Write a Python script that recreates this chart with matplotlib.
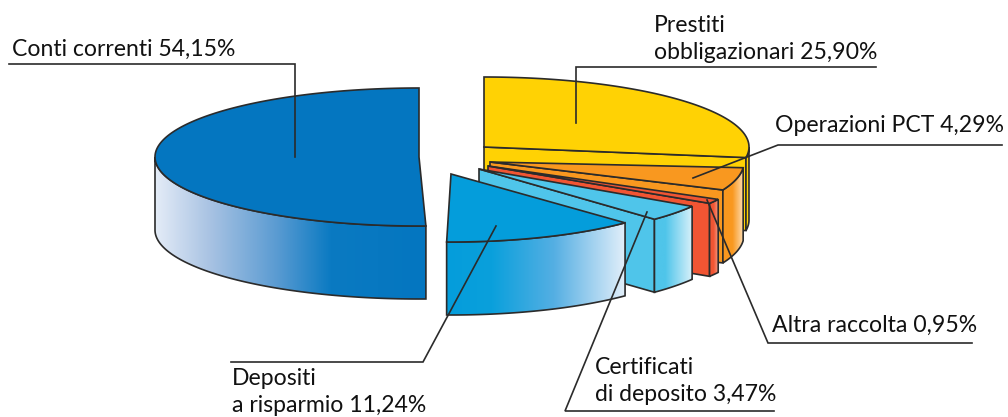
import numpy as np
import matplotlib
matplotlib.use('Agg')
import matplotlib.pyplot as plt
from matplotlib.colors import LinearSegmentedColormap
from matplotlib.patches import Polygon

####################################################
## data, clockwise from 12 o'clock

names = ['Prestiti\nobbligazionari', 'Operazioni PCT', 'Altra raccolta',
         'Certificati\ndi deposito', 'Depositi\na risparmio', 'Conti correnti']
shares = [25.90, 4.29, 0.95, 3.47, 11.24, 54.15]

####################################################
## pie geometry (pixels, y down)

W, H = 1008, 417
depth = 73
rx = [265, 254, 262, 252, 250, 264]
ry = [70, 70, 70, 70, 68, 69]
apex_x = [484, 490, 488, 479, 451, 419]
apex_y = [147, 162, 166, 169, 174, 157]

# the blue slice fills the back half on its own, the rest share the front half
nudge_start = [0, -7, 0, 0, 0, -1.5]
nudge_end = [-3, -5, 0, 0, 1, 0]

top_col = ['#FFD204', '#F9981F', '#F15533', '#4FC5EA', '#049DDB', '#0476C0']
wall_stops = [
    None,
    [(0.0, '#F9981F'), (0.45, '#F9981F'), (1.0, '#FEE0B8')],
    [(0.0, '#F15533'), (0.4, '#F15533'), (1.0, '#F8A58E')],
    [(0.0, '#4FC5EA'), (0.3, '#4FC5EA'), (1.0, '#D6F0FA')],
    [(0.0, '#049DDB'), (0.25, '#0AA0DC'), (0.6, '#55AFE3'), (1.0, '#E3EFFA')],
    [(0.0, '#E4ECF7'), (0.2, '#A9C3E3'), (0.45, '#5A9BD2'), (0.65, '#0A7AC2'), (1.0, '#0476C0')],
]

# leader lines: text anchor, then polyline
label_xy = [(654, 32), (775, 132), (772, 332), (595, 374), (232, 385), (12, 56)]
leaders = [
    ([876, 576, 576], [67, 67, 123]),
    ([1002, 778, 693], [145, 145, 178]),
    ([972, 768, 707], [343, 343, 200]),
    ([774, 565, 647], [411, 411, 212]),
    ([231, 423, 496], [362, 362, 226]),
    ([9, 295, 295], [64, 64, 157]),
]

plt.rcParams['font.family'] = ['Lato', 'DejaVu Sans']
line_col = '#2B2B2B'
line_gap = 27

####################################################
## angles from the shares

cum = np.cumsum([0] + shares)
front_end = cum[5]
ang = np.interp(cum, [0, front_end, 100], [0, 180, 360])
start = ang[:-1] + np.array(nudge_start)
end = ang[1:] + np.array(nudge_end)


def rim(i, a):
    t = np.radians(a)
    return apex_x[i] + rx[i]*np.sin(t), apex_y[i] - ry[i]*np.cos(t)


fig = plt.figure(figsize=(W/100, H/100), dpi=100)
ax = fig.add_axes([0, 0, 1, 1])
ax.set_axis_off()

for i in range(len(shares)):
    z = 2 + i*3
    # cut face on the clockwise side
    if end[i] < 175:
        ex, ey = rim(i, end[i])
        pts = [(apex_x[i], apex_y[i]), (ex, ey), (ex, ey + depth), (apex_x[i], apex_y[i] + depth)]
        ax.add_patch(Polygon(pts, closed=True, fc=top_col[i], ec=line_col, lw=1.2, zorder=z))

    # outer wall, only the part facing the viewer
    a0 = max(start[i], 90)
    a1 = min(end[i], 270)
    aa = np.linspace(a0, a1, 120)
    xr, yr = rim(i, aa)
    wx = np.r_[xr, xr[::-1]]
    wy = np.r_[yr, yr[::-1] + depth]
    wall = Polygon(np.c_[wx, wy], closed=True, fc=top_col[i], ec='none', zorder=z + 1)
    ax.add_patch(wall)
    if wall_stops[i] is not None:
        cmap = LinearSegmentedColormap.from_list('w%d' % i, wall_stops[i])
        im = ax.imshow(np.linspace(0, 1, 256)[None, :], cmap=cmap, aspect='auto',
                       extent=[wx.min(), wx.max(), wy.max(), wy.min()], zorder=z + 1)
        im.set_clip_path(wall)
    ax.add_patch(Polygon(np.c_[wx, wy], closed=True, fc='none', ec=line_col, lw=1.2, zorder=z + 1))

    # top surface
    aa = np.linspace(start[i], end[i], 240)
    xr, yr = rim(i, aa)
    pts = np.c_[np.r_[apex_x[i], xr], np.r_[apex_y[i], yr]]
    ax.add_patch(Polygon(pts, closed=True, fc=top_col[i], ec=line_col, lw=1.2, zorder=z + 2))

# labels and leaders
for i in range(len(shares)):
    ax.plot(leaders[i][0], leaders[i][1], color=line_col, lw=1.2, zorder=40,
            solid_joinstyle='miter')
    txt = '%s %s%%' % (names[i], ('%.2f' % shares[i]).replace('.', ','))
    # two-line labels get a fixed baseline step
    for k, row in enumerate(txt.split('\n')):
        ax.text(label_xy[i][0], label_xy[i][1] + k*line_gap, row, fontsize=16.6,
                color='#111111', ha='left', va='baseline', zorder=41)

ax.set_xlim(0, W)
ax.set_ylim(H, 0)
fig.savefig('out.png', dpi=100)
